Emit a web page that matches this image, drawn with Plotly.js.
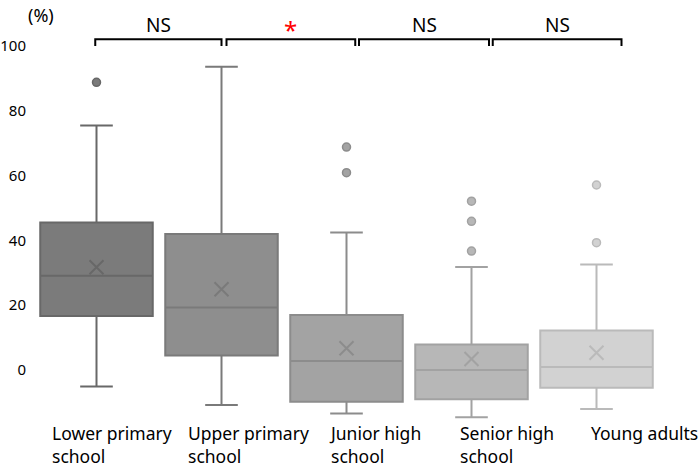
<!DOCTYPE html>
<html>
<head>
<meta charset="utf-8">
<script src="https://cdn.plot.ly/plotly-3.0.1.min.js"></script>
<style>html,body{margin:0;padding:0;background:#fff;}#chart{width:700px;height:467px;}</style>
</head>
<body>
<div id="chart"></div>
<script>
// ---- data ----
var categories = ["Lower primary school", "Upper primary school", "Junior high school", "Senior high school", "Young adults"];
var labelLines = ["Lower primary<br>school", "Upper primary<br>school", "Junior high<br>school", "Senior high<br>school", "Young adults"];
var lowerWhisker = [-5.1, -10.8, -13.4, -14.6, -12.0];
var q1Values     = [16.7, 4.5, -9.8, -9.0, -5.5];
var medianValues = [29.1, 19.3, 2.8, 0.0, 0.9];
var q3Values     = [45.5, 42.0, 17.0, 7.9, 12.2];
var upperWhisker = [75.5, 93.6, 42.4, 31.8, 32.6];
var meanValues   = [31.7, 24.9, 6.7, 3.4, 5.3];
var outliers     = [[88.8], [], [68.8, 60.9], [52.1, 45.9, 36.7], [57.1, 39.3]];
var comparisons  = ["NS", "*", "NS", "NS"];

// ---- styles ----
var fills = ["#7b7b7b", "#8e8e8e", "#a3a3a3", "#b7b7b7", "#d2d2d2"];
var lines = ["#686868", "#7a7a7a", "#8c8c8c", "#a2a2a2", "#bababa"];
var FONT = "'Noto Sans', 'DejaVu Sans', sans-serif";

var traces = [];
categories.forEach(function (c, i) {
  traces.push({
    type: "box",
    x: [c],
    lowerfence: [lowerWhisker[i]],
    q1: [q1Values[i]],
    median: [medianValues[i]],
    q3: [q3Values[i]],
    upperfence: [upperWhisker[i]],
    fillcolor: fills[i],
    line: {color: lines[i], width: 2},
    whiskerwidth: 0.29,
    width: 0.9,
    boxpoints: false,
    hoverinfo: "skip",
    showlegend: false
  });
  if (outliers[i].length) {
    traces.push({
      type: "scatter", mode: "markers",
      x: outliers[i].map(function () { return c; }),
      y: outliers[i],
      marker: {symbol: "circle", size: 8, color: fills[i], line: {color: lines[i], width: 1.5}},
      hoverinfo: "skip", showlegend: false
    });
  }
  traces.push({
    type: "scatter", mode: "markers",
    x: [c], y: [meanValues[i]],
    marker: {symbol: "x-thin", size: 14, line: {color: lines[i], width: 2}},
    hoverinfo: "skip", showlegend: false
  });
});

// bracket geometry (layout only)
var bracketStart = [-0.01, 1.04, 2.10, 3.17];
var bracketEnd   = [1.00, 2.07, 3.14, 4.20];
var bracketTop = 102.1, bracketFoot = 100;
var shapes = [], annotations = [];
comparisons.forEach(function (t, i) {
  shapes.push({
    type: "path", xref: "x", yref: "y",
    path: "M " + bracketStart[i] + " " + bracketFoot + " L " + bracketStart[i] + " " + bracketTop +
          " L " + bracketEnd[i] + " " + bracketTop + " L " + bracketEnd[i] + " " + bracketFoot,
    line: {color: "#000", width: 2}
  });
  var star = t === "*";
  annotations.push({
    x: (bracketStart[i] + bracketEnd[i]) / 2, y: star ? 105.0 : 106.4,
    xref: "x", yref: "y", text: t, showarrow: false,
    font: {family: FONT, size: star ? 24 : 19, color: star ? "#ff0000" : "#000"}
  });
});
var labelShift = [-46.5, -35.4, -19.3, -13.2, -7.1];
labelLines.forEach(function (t, i) {
  annotations.push({
    x: i, y: 0, xref: "x", yref: "paper", xanchor: "left", yanchor: "top",
    xshift: labelShift[i], yshift: 6, align: "left",
    text: t, showarrow: false,
    font: {family: FONT, size: 17.5, color: "#000"}
  });
});
annotations.push({
  x: 0, y: 1, xref: "paper", yref: "paper", xanchor: "left", yanchor: "top",
  xshift: -8, yshift: 9, text: "(%)", showarrow: false,
  font: {family: FONT, size: 18, color: "#000"}
});

var layout = {
  width: 700, height: 467,
  margin: {l: 34, r: 41.4, t: 10, b: 42},
  paper_bgcolor: "#fff", plot_bgcolor: "#fff",
  font: {family: FONT, color: "#000"},
  showlegend: false,
  xaxis: {
    type: "category", categoryorder: "array", categoryarray: categories,
    range: [-0.5, 4.5], showticklabels: false, showgrid: false, zeroline: false, showline: false, ticks: ""
  },
  yaxis: {
    range: [-16.975, 111.11], tickvals: [0, 20, 40, 60, 80, 100],
    showgrid: false, zeroline: false, showline: false, ticks: "",
    ticklabelstandoff: 7,
    tickfont: {family: FONT, size: 15, color: "#000"}
  },
  shapes: shapes,
  annotations: annotations
};

Plotly.newPlot("chart", traces, layout, {staticPlot: true});
</script>
</body>
</html>
